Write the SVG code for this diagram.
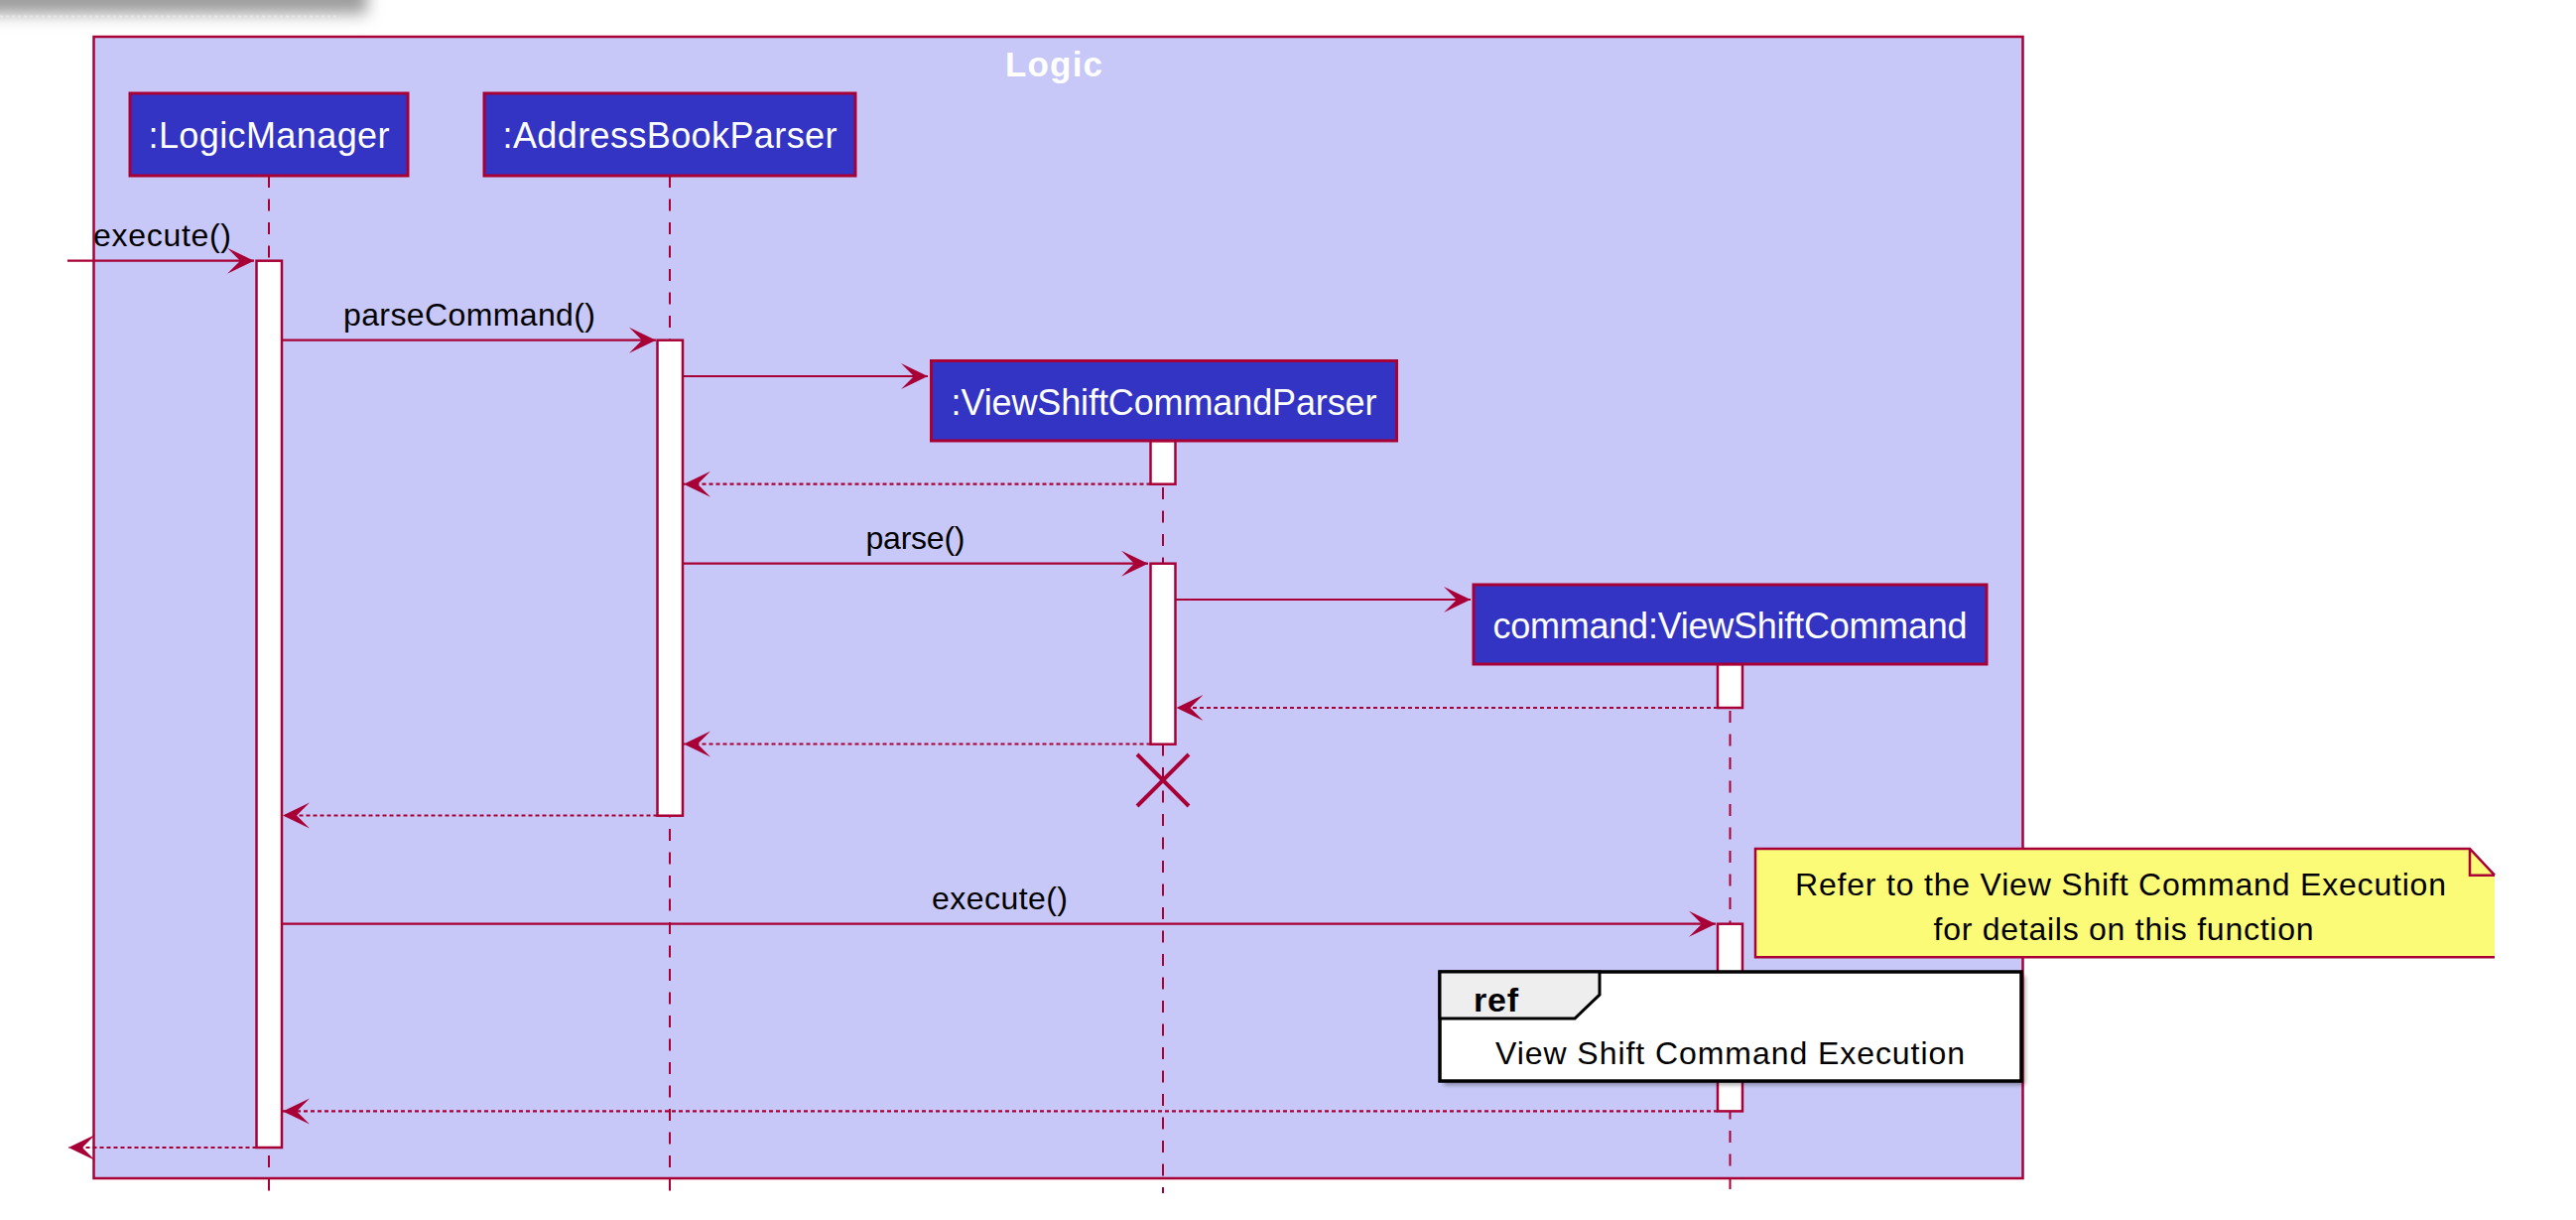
<svg xmlns="http://www.w3.org/2000/svg" width="2596" height="1229" viewBox="0 0 2596 1229">
<defs>
<style>
.frame{fill:#C8C8F8;stroke:#A80036;stroke-width:2.5}
.part rect{fill:#3333C4;stroke:#A80036;stroke-width:3}
.ptext{font-family:"Liberation Sans",Arial,sans-serif;font-size:36px;fill:#FFFFFF;text-anchor:middle}
.life{stroke:#A80036;stroke-width:2;stroke-dasharray:12 11.5;fill:none}
.act{fill:#FFFFFF;stroke:#A80036;stroke-width:2.5}
.msg{stroke:#A80036;stroke-width:2.2;fill:none;marker-end:url(#arr)}
.ret{stroke-dasharray:4 3}
.mtext{font-family:"Liberation Sans",Arial,sans-serif;font-size:32px;fill:#000000}
.mid{text-anchor:middle}
</style>
<marker id="arr" viewBox="-28 -14 30 28" refX="0" refY="0" markerWidth="30" markerHeight="28" markerUnits="userSpaceOnUse" orient="auto">
<path d="M0,0 L-27,-13 L-14,0 L-27,13 Z" fill="#A80036"/>
</marker>
<filter id="blur8" x="-20%" y="-100%" width="140%" height="300%"><feGaussianBlur stdDeviation="8"/></filter>
<filter id="blur3" x="-10%" y="-10%" width="120%" height="120%"><feGaussianBlur stdDeviation="2"/></filter>
</defs>
<rect x="0" y="0" width="2596" height="1229" fill="#FFFFFF"/>
<g id="window-shadow">
<rect x="-30" y="-30" width="400" height="44" fill="#9C9C9C" filter="url(#blur8)"/>
<line x1="0" y1="16.5" x2="340" y2="16.5" stroke="#E6E6E6" stroke-width="2" stroke-dasharray="3 3"/>
</g>
<g id="logic-frame">
<rect class="frame" x="94.5" y="37" width="1944" height="1150"/>
<text x="1062" y="77" font-family="'Liberation Sans',Arial,sans-serif" font-size="35" font-weight="bold" fill="#FFFFFF" text-anchor="middle" textLength="98">Logic</text>
</g>
<g id="lifelines">
<line class="life" x1="271" y1="177" x2="271" y2="1202"/>
<line class="life" x1="675" y1="177" x2="675" y2="1202"/>
<line class="life" x1="1172" y1="444" x2="1172" y2="1202"/>
<line class="life" x1="1743.5" y1="669" x2="1743.5" y2="1202"/>
</g>
<g id="activations">
<rect class="act" x="258.5" y="262.7" width="25.5" height="893.3"/>
<rect class="act" x="662.5" y="342.7" width="25.5" height="479"/>
<rect class="act" x="1159.5" y="444" width="25" height="43.7"/>
<rect class="act" x="1159.5" y="567.7" width="25" height="182"/>
<rect class="act" x="1731" y="669" width="25" height="44"/>
<rect class="act" x="1731" y="930.7" width="25" height="188.7"/>
</g>
<g id="LogicManager" class="part">
<rect x="131" y="94" width="280" height="83"/>
<text class="ptext" x="271" y="149" textLength="243">:LogicManager</text>
</g>
<g id="AddressBookParser" class="part">
<rect x="488" y="94" width="374" height="83"/>
<text class="ptext" x="675" y="149" textLength="337">:AddressBookParser</text>
</g>
<g id="ViewShiftCommandParser" class="part">
<rect x="938.5" y="363.5" width="469" height="80.5"/>
<text class="ptext" x="1173" y="418" textLength="429">:ViewShiftCommandParser</text>
</g>
<g id="ViewShiftCommand" class="part">
<rect x="1485" y="589" width="517" height="80"/>
<text class="ptext" x="1743.5" y="643" textLength="478">command:ViewShiftCommand</text>
</g>
<g id="connectors">
<path class="msg" d="M68,262.7 H256"/>
<text class="mtext" x="94" y="248" textLength="139">execute()</text>
<path class="msg" d="M284,342.7 H661"/>
<text class="mtext mid" x="473" y="328" textLength="254">parseCommand()</text>
<path class="msg" d="M688,379 H935"/>
<path class="msg ret" d="M1159.5,487.7 H689"/>
<path class="msg" d="M688,567.7 H1157"/>
<text class="mtext mid" x="922.5" y="553" textLength="100">parse()</text>
<path class="msg" d="M1184.5,604 H1482"/>
<path class="msg ret" d="M1731,713 H1185.5"/>
<path class="msg ret" d="M1159.5,749.5 H689"/>
<path class="msg ret" d="M662.5,821.5 H285"/>
<path class="msg" d="M284,930.7 H1729"/>
<text class="mtext mid" x="1007.5" y="916" textLength="137">execute()</text>
<path class="msg ret" d="M1731,1119.4 H285"/>
<path class="msg ret" d="M258.5,1156 H69"/>
</g>
<g id="destroy">
<path d="M1146,760 L1198,812 M1198,760 L1146,812" stroke="#A80036" stroke-width="4" fill="none"/>
</g>
<g id="note">
<polygon points="1769,855 2489,855 2514,881.7 2514,964.3 1769,964.3" fill="#FBFB77"/>
<path d="M2514,964.3 H1769 V855 H2489 L2514,881.7 M2489,855 V881.7 H2514" fill="none" stroke="#A80036" stroke-width="2.5"/>
<text class="mtext mid" x="2137" y="901.5" font-size="33" textLength="656">Refer to the View Shift Command Execution</text>
<text class="mtext mid" x="2140" y="946.5" font-size="33" textLength="383">for details on this function</text>
</g>
<g id="ref">
<rect x="1455" y="983" width="586" height="110" fill="#000000" opacity="0.35" filter="url(#blur3)"/>
<rect x="1451" y="979" width="586" height="110" fill="#FFFFFF" stroke="#000000" stroke-width="3.5"/>
<polygon points="1451,979 1612,979 1612,1002 1587,1026 1451,1026" fill="#EEEEEE" stroke="#000000" stroke-width="3"/>
<text x="1485" y="1019" font-family="'Liberation Sans',Arial,sans-serif" font-size="34" font-weight="bold" fill="#000000" textLength="45">ref</text>
<text class="mtext" x="1507" y="1072" font-size="33" textLength="473">View Shift Command Execution</text>
</g>
</svg>
